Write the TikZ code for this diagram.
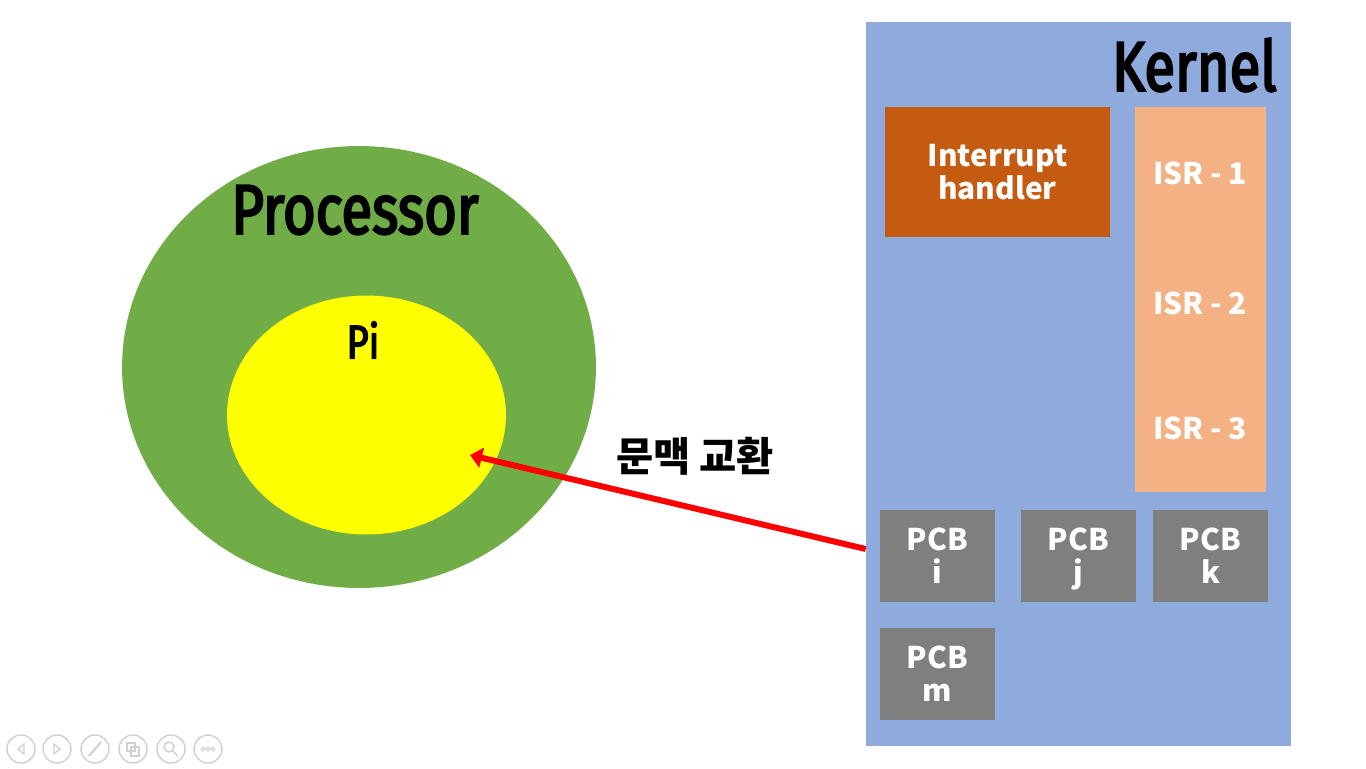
\documentclass[tikz,border=0pt]{standalone}
\usepackage{fontspec}
\setmainfont{Noto Sans CJK KR}
\newfontfamily\condfont[FakeStretch=0.80,FakeBold=3]{Fira Sans}
\usetikzlibrary{arrows.meta,shapes.geometric}
\definecolor{kernelblue}{HTML}{8FAADC}
\definecolor{handlerbrown}{HTML}{C55A11}
\definecolor{isrpeach}{HTML}{F4B183}
\definecolor{procgreen}{HTML}{70AD47}
\definecolor{piyellow}{HTML}{FFFF00}
\definecolor{pcbgray}{HTML}{7F7F7F}
\definecolor{navgray}{HTML}{D0D0D0}
\tikzset{
  box/.style={rectangle,inner sep=0pt,draw=none},
  boxtext/.style={text=white,font=\fontsize{17}{19}\selectfont\bfseries,align=center},
  pcb/.style={box,boxtext,fill=pcbgray,minimum width=2.3cm,minimum height=1.84cm},
  bigtitle/.style={font=\condfont\fontsize{40}{44}\selectfont},
  navbtn/.style={draw=navgray,line width=0.8pt}
}
\begin{document}
\begin{tikzpicture}[x=0.02cm,y=-0.02cm]
\useasboundingbox (0,0) rectangle (1366,768);
% processor side
\node[ellipse,fill=procgreen,inner sep=0pt,minimum width=9.48cm,minimum height=8.84cm] (proc) at (359,367) {};
\node[ellipse,fill=piyellow,inner sep=0pt,minimum width=5.58cm,minimum height=4.78cm] (pi) at (366.5,415) {};
\node[bigtitle] (proclabel) at (355,210) {Processor};
\node[font=\condfont\fontsize{27}{30}\selectfont] (pilabel) at (363,340) {Pi};
% kernel side
\node[box,fill=kernelblue,minimum width=8.5cm,minimum height=14.48cm] (kernel) at (1078.5,384) {};
\node[bigtitle,anchor=east] (kernellabel) at (1283,65) {Kernel};
\node[box,boxtext,fill=handlerbrown,minimum width=4.5cm,minimum height=2.6cm] (handler) at (997.5,172) {Interrupt\\handler};
\node[box,fill=isrpeach,minimum width=2.62cm,minimum height=7.7cm] (isr) at (1200.5,299.5) {};
\node[boxtext] (isr1) at (1200,173) {ISR~-~1};
\node[boxtext] (isr2) at (1200,303) {ISR~-~2};
\node[boxtext] (isr3) at (1200,428) {ISR~-~3};
\node[pcb] (pcbi) at (937.5,555.5) {PCB\\[0pt]i};
\node[pcb] (pcbj) at (1078.5,555.5) {PCB\\[0pt]\smash{j}};
\node[pcb] (pcbk) at (1210.5,555.5) {PCB\\[0pt]k};
\node[pcb] (pcbm) at (937.5,673.5) {PCB\\[0pt]m};
% context switch
\coordinate (src) at (kernel.west |- 0,549);
\coordinate (tgt) at (470,455);
\draw[red,line width=3.4pt,-{Triangle[length=2.4mm,width=4mm]}] (src) -- (tgt);
\node[font=\fontsize{23}{26}\selectfont\bfseries] (swap) at (695,456) {문맥 교환};
% slide show buttons
\foreach \bx/\bn in {21/prev,57/next,95/pen,133/grid,171/zoom,208/more}
  \node[circle,navbtn,minimum size=0.56cm,inner sep=0pt] (\bn) at (\bx,749) {};
\draw[navgray,line width=0.7pt] (prev)+(3,-5) -- +(-3,0) -- +(3,5) -- cycle;
\draw[navgray,line width=0.7pt] (next)+(-3,-5) -- +(3,0) -- +(-3,5) -- cycle;
\draw[navgray,line width=1.2pt] (pen)+(-6,7) -- +(6,-7);
\draw[navgray,line width=0.7pt] (grid)+(-6,-6) rectangle +(2,2) (grid)+(-2,-2) rectangle +(6,7);
\draw[navgray,line width=0.8pt] (zoom)+(-2,-2) circle[radius=5] (zoom)+(2,2) -- +(7,7);
\foreach \dx in {-5,0,5} \draw[navgray,line width=0.6pt] (more)+(\dx,0) circle[radius=1.8];
\end{tikzpicture}
\end{document}
